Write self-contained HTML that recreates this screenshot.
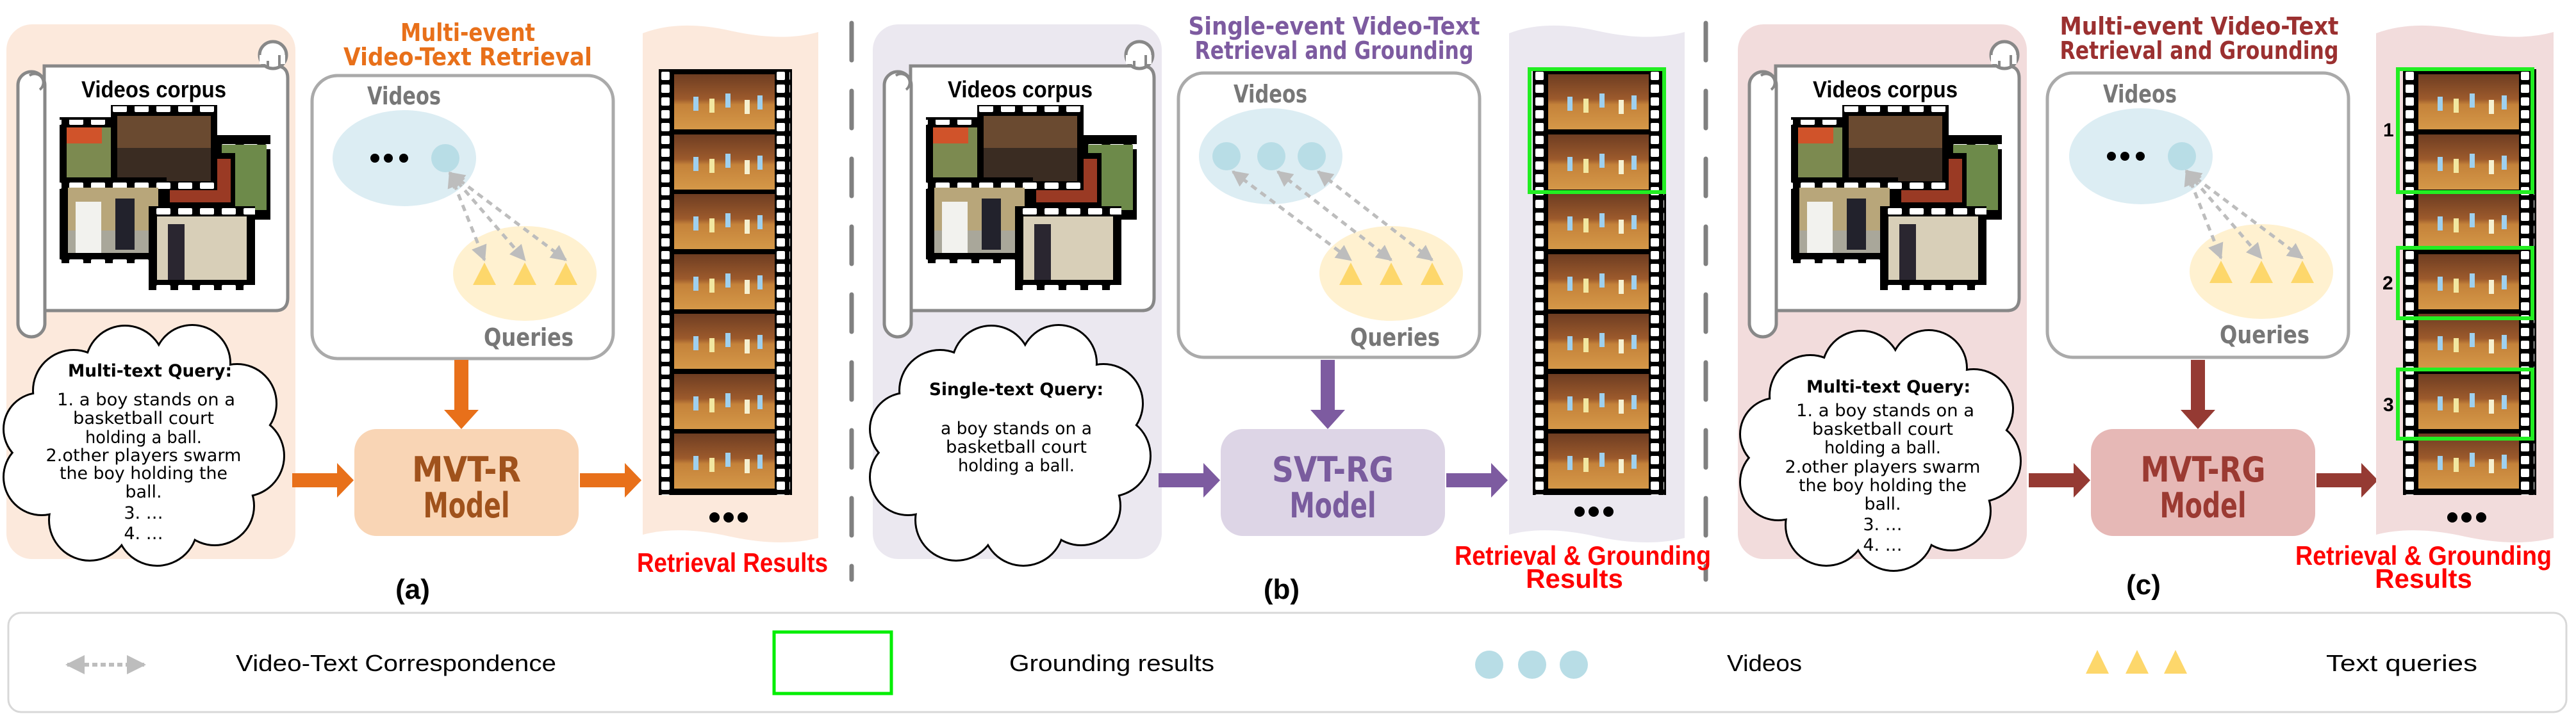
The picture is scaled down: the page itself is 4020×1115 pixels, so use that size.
<!DOCTYPE html>
<html><head><meta charset="utf-8"><style>
html,body{margin:0;padding:0;background:#fff;}
svg{display:block;}
.cm{font-family:"DejaVu Sans","Liberation Sans",sans-serif;}
.nr{font-family:"Liberation Sans Narrow","Liberation Sans",sans-serif;}
.bd{font-weight:bold;}
</style></head><body>
<svg width="4020" height="1115" viewBox="0 0 4020 1115" xmlns="http://www.w3.org/2000/svg">
<defs>
<linearGradient id="court" x1="0" y1="0" x2="0" y2="1">
<stop offset="0" stop-color="#6e3d22"/><stop offset="0.45" stop-color="#9c5a2c"/><stop offset="0.55" stop-color="#c4823a"/><stop offset="1" stop-color="#d59848"/></linearGradient>
<pattern id="holes" x="0" y="0" width="20" height="20" patternUnits="userSpaceOnUse"><rect x="4" y="4" width="13" height="13" rx="2" fill="#fff"/></pattern>
<pattern id="hh" x="0" y="0" width="34" height="20" patternUnits="userSpaceOnUse"><rect x="6" y="5" width="22" height="10" rx="2" fill="#fff"/></pattern>
<g id="players">
<rect x="30" y="35" width="8" height="22" fill="#9fd0ee"/><rect x="55" y="38" width="8" height="22" fill="#f2e7a0"/><rect x="80" y="30" width="8" height="22" fill="#9fd0ee"/><rect x="110" y="40" width="8" height="22" fill="#f5f0d0"/><rect x="130" y="33" width="8" height="22" fill="#9fd0ee"/>
</g>
<g id="frame"><rect x="0" y="0" width="157" height="86" fill="url(#court)"/><use href="#players"/></g>
<g id="film">
<rect x="0" y="0" width="208" height="665" fill="#000"/>
<rect x="0" y="0" width="22" height="665" fill="url(#holes)"/>
<rect x="183" y="0" width="22" height="665" fill="url(#holes)"/>
<use href="#frame" x="24" y="8"/><use href="#frame" x="24" y="102"/><use href="#frame" x="24" y="195"/><use href="#frame" x="24" y="289"/><use href="#frame" x="24" y="382"/><use href="#frame" x="24" y="476"/><use href="#frame" x="24" y="569"/>
</g>
<g id="collage">
<rect x="338" y="211" width="84" height="132" fill="#000"/><rect x="338" y="215" width="84" height="18" fill="url(#hh)"/><rect x="346" y="226" width="70" height="102" fill="#6d8a4a"/>
<rect x="260" y="239" width="107" height="84" fill="#000"/><rect x="265" y="248" width="95" height="68" fill="#9a3a24"/>
<rect x="93" y="183" width="90" height="100" fill="#000"/><rect x="93" y="187" width="90" height="18" fill="url(#hh)"/><rect x="104" y="199" width="75" height="78" fill="#7c8a50"/><rect x="104" y="199" width="55" height="25" fill="#d0532a"/>
<rect x="173" y="164" width="166" height="133" fill="#000"/><rect x="173" y="166" width="166" height="18" fill="url(#hh)"/><rect x="173" y="284" width="166" height="14" fill="url(#hh)"/><rect x="183" y="181" width="146" height="102" fill="#3a2c22"/><rect x="183" y="181" width="146" height="50" fill="#6a4a30"/>
<rect x="93" y="277" width="167" height="134" fill="#000"/><rect x="93" y="279" width="167" height="16" fill="url(#hh)"/><rect x="93" y="395" width="167" height="16" fill="url(#hh)"/><rect x="106" y="293" width="141" height="102" fill="#b8a67a"/><rect x="106" y="360" width="141" height="35" fill="#a9a79a"/><rect x="118" y="315" width="40" height="80" fill="#f2f2ee"/><rect x="180" y="310" width="30" height="80" fill="#22222c"/>
<rect x="232" y="322" width="166" height="131" fill="#000"/><rect x="232" y="324" width="166" height="16" fill="url(#hh)"/><rect x="232" y="437" width="166" height="16" fill="url(#hh)"/><rect x="245" y="338" width="140" height="99" fill="#d8cfb8"/><rect x="262" y="350" width="26" height="87" fill="#2a2630"/>
</g>
<g id="scroll">
<path d="M69,103 H430 Q449,103 449,122 V465 Q449,485 430,485 H69 Z" fill="#fff" stroke="#888" stroke-width="5"/>
<rect x="28" y="112" width="42" height="414" rx="21" fill="#fff" stroke="#888" stroke-width="5"/>
<path d="M46,118 A12,12 0 1 1 62,140" fill="none" stroke="#888" stroke-width="4"/>
<circle cx="426" cy="86" r="21" fill="#fff" stroke="#888" stroke-width="5"/>
<rect x="405" y="86" width="40" height="14" fill="#fff"/>
<path d="M418,95 v10 M436,86 v20" stroke="#888" stroke-width="4"/>
</g>
<g id="cloudS">
<circle cx="115" cy="610" r="62"/><circle cx="195" cy="570" r="60"/><circle cx="300" cy="567" r="58"/><circle cx="370" cy="630" r="60"/><circle cx="380" cy="712" r="62"/><circle cx="335" cy="790" r="60"/><circle cx="245" cy="820" r="62"/><circle cx="140" cy="812" r="62"/><circle cx="65" cy="745" r="58"/><circle cx="62" cy="670" r="55"/><ellipse cx="220" cy="700" rx="170" ry="130"/>
</g>
<marker id="ah" viewBox="0 0 10 10" refX="9" refY="5" markerWidth="5" markerHeight="5" orient="auto-start-reverse" markerUnits="strokeWidth"><path d="M0,0 L10,5 L0,10 z" fill="#bdbdbd"/></marker>
<g id="tris" fill="#fdd76b"><path d="M756,410 L738,445 L774,445Z"/><path d="M819,410 L801,445 L837,445Z"/><path d="M883,410 L865,445 L901,445Z"/></g>
</defs>

<line x1="1329" y1="36" x2="1329" y2="905" stroke="#808080" stroke-width="7" stroke-linecap="round" stroke-dasharray="58 48"/>
<line x1="2662" y1="36" x2="2662" y2="905" stroke="#808080" stroke-width="7" stroke-linecap="round" stroke-dasharray="58 48"/>

<!-- PANEL A -->
<g>
<rect x="10" y="38" width="451" height="835" rx="40" fill="#fce9dc"/>
<use href="#scroll"/>
<text x="240" y="152" class="nr" font-size="36" font-weight="bold" text-anchor="middle" textLength="226" lengthAdjust="spacingAndGlyphs">Videos corpus</text>
<use href="#collage"/>
<use href="#cloudS" stroke="#000" stroke-width="6" fill="#fff"/>
<use href="#cloudS" fill="#fff"/>
<g class="cm" font-size="27" text-anchor="middle" fill="#000">
<text x="234" y="588" font-weight="bold" textLength="256" lengthAdjust="spacingAndGlyphs">Multi-text Query:</text>
<text x="228" y="633" textLength="278" lengthAdjust="spacingAndGlyphs">1.  a boy stands on a</text>
<text x="224" y="662" textLength="220" lengthAdjust="spacingAndGlyphs">basketball court</text>
<text x="224" y="692" textLength="182" lengthAdjust="spacingAndGlyphs">holding a ball.</text>
<text x="224" y="720" textLength="305" lengthAdjust="spacingAndGlyphs">2.other players swarm</text>
<text x="224" y="748" textLength="262" lengthAdjust="spacingAndGlyphs">the boy holding the</text>
<text x="224" y="777">ball.</text>
<text x="224" y="810">3.  …</text>
<text x="224" y="842">4.  …</text>
</g>
<text x="730" y="64" class="cm bd" font-size="38" fill="#e8701a" text-anchor="middle" textLength="210" lengthAdjust="spacingAndGlyphs">Multi-event</text>
<text x="730" y="102" class="cm bd" font-size="38" fill="#e8701a" text-anchor="middle" textLength="388" lengthAdjust="spacingAndGlyphs">Video-Text Retrieval</text>
<rect x="487" y="118" width="470" height="442" rx="40" fill="#fff" stroke="#aaa" stroke-width="5"/>
<text x="573" y="163" class="cm bd" font-size="38" fill="#777" textLength="115" lengthAdjust="spacingAndGlyphs">Videos</text>
<ellipse cx="631" cy="247" rx="112" ry="75" fill="#dcedf3"/>
<circle cx="695" cy="247" r="22" fill="#b8dde6"/>
<circle cx="585" cy="247" r="7"/><circle cx="606" cy="247" r="7"/><circle cx="630" cy="247" r="7"/>
<ellipse cx="819" cy="427" rx="112" ry="74" fill="#fff1d0"/>
<use href="#tris"/>
<g stroke="#bdbdbd" stroke-width="5" stroke-dasharray="10 8" fill="none" marker-start="url(#ah)" marker-end="url(#ah)">
<line x1="702" y1="270" x2="756" y2="406"/><line x1="702" y1="270" x2="819" y2="406"/><line x1="702" y1="270" x2="883" y2="406"/></g>
<text x="755" y="540" class="cm bd" font-size="38" fill="#777" textLength="140" lengthAdjust="spacingAndGlyphs">Queries</text>
<path d="M709,562 h22 v78 h16 l-27,30 l-27,-30 h16z" fill="#e8701a"/>
<rect x="553" y="670" width="350" height="167" rx="35" fill="#f9d5b5"/>
<text x="728" y="752" class="cm bd" font-size="54" fill="#a0521c" text-anchor="middle" textLength="170" lengthAdjust="spacingAndGlyphs">MVT-R</text>
<text x="728" y="808" class="cm bd" font-size="54" fill="#a0521c" text-anchor="middle" textLength="135" lengthAdjust="spacingAndGlyphs">Model</text>
<path d="M456,739 h70 v-16 l26,27 l-26,27 v-16 h-70z" fill="#e8701a"/>
<path d="M905,739 h70 v-16 l26,27 l-26,27 v-16 h-70z" fill="#e8701a"/>
<path d="M1003,52 Q1060,30 1140,48 Q1220,66 1277,50 V840 Q1220,855 1140,838 Q1060,820 1003,835 Z" fill="#fce9dc"/>
<use href="#film" x="1028" y="108"/>
<circle cx="1115" cy="808" r="8"/><circle cx="1137" cy="808" r="8"/><circle cx="1159" cy="808" r="8"/>
<text x="1143" y="893" class="nr" font-size="42" font-weight="bold" fill="#ff0000" text-anchor="middle" textLength="298" lengthAdjust="spacingAndGlyphs">Retrieval Results</text>
<text x="644" y="935" class="nr" font-size="44" font-weight="bold" text-anchor="middle">(a)</text>
</g>

<!-- PANEL B -->
<g transform="translate(1352,0)">
<rect x="10" y="38" width="451" height="835" rx="40" fill="#ebe8f0"/>
<use href="#scroll"/>
<text x="240" y="152" class="nr" font-size="36" font-weight="bold" text-anchor="middle" textLength="226" lengthAdjust="spacingAndGlyphs">Videos corpus</text>
<use href="#collage"/>
<use href="#cloudS" stroke="#000" stroke-width="6" fill="#fff"/>
<use href="#cloudS" fill="#fff"/>
<g class="cm" font-size="27" text-anchor="middle" fill="#000">
<text x="234" y="617" font-weight="bold" textLength="272" lengthAdjust="spacingAndGlyphs">Single-text Query:</text>
<text x="234" y="678" textLength="236" lengthAdjust="spacingAndGlyphs">a boy stands on a</text>
<text x="234" y="707" textLength="220" lengthAdjust="spacingAndGlyphs">basketball court</text>
<text x="234" y="736" textLength="182" lengthAdjust="spacingAndGlyphs">holding a ball.</text>
</g>
<text x="730" y="54" class="cm bd" font-size="38" fill="#7d5ba0" text-anchor="middle" textLength="455" lengthAdjust="spacingAndGlyphs">Single-event Video-Text</text>
<text x="730" y="92" class="cm bd" font-size="38" fill="#7d5ba0" text-anchor="middle" textLength="435" lengthAdjust="spacingAndGlyphs">Retrieval and Grounding</text>
<rect x="487" y="114" width="470" height="444" rx="40" fill="#fff" stroke="#aaa" stroke-width="5"/>
<text x="573" y="160" class="cm bd" font-size="38" fill="#777" textLength="115" lengthAdjust="spacingAndGlyphs">Videos</text>
<ellipse cx="631" cy="244" rx="112" ry="75" fill="#dcedf3"/>
<circle cx="562" cy="244" r="22" fill="#b8dde6"/><circle cx="632" cy="244" r="22" fill="#b8dde6"/><circle cx="695" cy="244" r="22" fill="#b8dde6"/>
<ellipse cx="819" cy="427" rx="112" ry="74" fill="#fff1d0"/>
<use href="#tris"/>
<g stroke="#bdbdbd" stroke-width="5" stroke-dasharray="10 8" fill="none" marker-start="url(#ah)" marker-end="url(#ah)">
<line x1="572" y1="268" x2="756" y2="406"/><line x1="642" y1="268" x2="819" y2="406"/><line x1="705" y1="268" x2="883" y2="406"/></g>
<text x="755" y="540" class="cm bd" font-size="38" fill="#777" textLength="140" lengthAdjust="spacingAndGlyphs">Queries</text>
<path d="M709,562 h22 v78 h16 l-27,30 l-27,-30 h16z" fill="#7d5ba0"/>
<rect x="553" y="670" width="350" height="167" rx="35" fill="#ddd5e6"/>
<text x="728" y="752" class="cm bd" font-size="54" fill="#7a5c9e" text-anchor="middle" textLength="190" lengthAdjust="spacingAndGlyphs">SVT-RG</text>
<text x="728" y="808" class="cm bd" font-size="54" fill="#7a5c9e" text-anchor="middle" textLength="135" lengthAdjust="spacingAndGlyphs">Model</text>
<path d="M456,739 h70 v-16 l26,27 l-26,27 v-16 h-70z" fill="#7d5ba0"/>
<path d="M905,739 h70 v-16 l26,27 l-26,27 v-16 h-70z" fill="#7d5ba0"/>
<path d="M1003,52 Q1060,30 1140,48 Q1220,66 1277,50 V840 Q1220,855 1140,838 Q1060,820 1003,835 Z" fill="#ebe8f0"/>
<use href="#film" x="1040" y="108"/>
<rect x="1035" y="108" width="210" height="192" fill="none" stroke="#22ee22" stroke-width="6"/>
<circle cx="1113" cy="799" r="8"/><circle cx="1135" cy="799" r="8"/><circle cx="1158" cy="799" r="8"/>
<text x="1118" y="882" class="nr" font-size="42" font-weight="bold" fill="#ff0000" text-anchor="middle" textLength="400" lengthAdjust="spacingAndGlyphs">Retrieval &amp; Grounding</text>
<text x="1105" y="918" class="nr" font-size="42" font-weight="bold" fill="#ff0000" text-anchor="middle">Results</text>
<text x="648" y="935" class="nr" font-size="44" font-weight="bold" text-anchor="middle">(b)</text>
</g>

<!-- PANEL C -->
<g transform="translate(2702,0)">
<rect x="10" y="38" width="451" height="835" rx="40" fill="#f2dcdc"/>
<use href="#scroll"/>
<text x="240" y="152" class="nr" font-size="36" font-weight="bold" text-anchor="middle" textLength="226" lengthAdjust="spacingAndGlyphs">Videos corpus</text>
<use href="#collage"/>
<g transform="translate(8,8)">
<use href="#cloudS" stroke="#000" stroke-width="6" fill="#fff"/>
<use href="#cloudS" fill="#fff"/>
</g>
<g class="cm" font-size="27" text-anchor="middle" fill="#000">
<text x="245" y="613" font-weight="bold" textLength="256" lengthAdjust="spacingAndGlyphs">Multi-text Query:</text>
<text x="240" y="650" textLength="278" lengthAdjust="spacingAndGlyphs">1.  a boy stands on a</text>
<text x="236" y="679" textLength="220" lengthAdjust="spacingAndGlyphs">basketball court</text>
<text x="236" y="708" textLength="182" lengthAdjust="spacingAndGlyphs">holding a ball.</text>
<text x="236" y="738" textLength="305" lengthAdjust="spacingAndGlyphs">2.other players swarm</text>
<text x="236" y="767" textLength="262" lengthAdjust="spacingAndGlyphs">the boy holding the</text>
<text x="236" y="796">ball.</text>
<text x="236" y="828">3.  …</text>
<text x="236" y="860">4.  …</text>
</g>
<text x="730" y="54" class="cm bd" font-size="38" fill="#9b3030" text-anchor="middle" textLength="435" lengthAdjust="spacingAndGlyphs">Multi-event Video-Text</text>
<text x="730" y="92" class="cm bd" font-size="38" fill="#9b3030" text-anchor="middle" textLength="435" lengthAdjust="spacingAndGlyphs">Retrieval and Grounding</text>
<rect x="493" y="114" width="470" height="444" rx="40" fill="#fff" stroke="#aaa" stroke-width="5"/>
<text x="580" y="160" class="cm bd" font-size="38" fill="#777" textLength="115" lengthAdjust="spacingAndGlyphs">Videos</text>
<g transform="translate(8,-3)">
<ellipse cx="631" cy="247" rx="112" ry="75" fill="#dcedf3"/>
<circle cx="695" cy="247" r="22" fill="#b8dde6"/>
<circle cx="585" cy="247" r="7"/><circle cx="606" cy="247" r="7"/><circle cx="630" cy="247" r="7"/>
<ellipse cx="819" cy="427" rx="112" ry="74" fill="#fff1d0"/>
<use href="#tris"/>
<g stroke="#bdbdbd" stroke-width="5" stroke-dasharray="10 8" fill="none" marker-start="url(#ah)" marker-end="url(#ah)">
<line x1="702" y1="270" x2="756" y2="406"/><line x1="702" y1="270" x2="819" y2="406"/><line x1="702" y1="270" x2="883" y2="406"/></g>
</g>
<text x="762" y="536" class="cm bd" font-size="38" fill="#777" textLength="140" lengthAdjust="spacingAndGlyphs">Queries</text>
<path d="M717,562 h22 v78 h16 l-27,30 l-27,-30 h16z" fill="#953a33"/>
<rect x="561" y="670" width="350" height="167" rx="35" fill="#e6b8b6"/>
<text x="736" y="752" class="cm bd" font-size="54" fill="#9b3a32" text-anchor="middle" textLength="195" lengthAdjust="spacingAndGlyphs">MVT-RG</text>
<text x="736" y="808" class="cm bd" font-size="54" fill="#9b3a32" text-anchor="middle" textLength="135" lengthAdjust="spacingAndGlyphs">Model</text>
<path d="M464,739 h70 v-16 l26,27 l-26,27 v-16 h-70z" fill="#953a33"/>
<path d="M913,739 h70 v-16 l26,27 l-26,27 v-16 h-70z" fill="#953a33"/>
<path d="M1006,52 Q1065,30 1145,48 Q1225,66 1283,50 V840 Q1225,855 1145,838 Q1065,820 1006,835 Z" fill="#f2dcdc"/>
<use href="#film" x="1048" y="108"/>
<g fill="none" stroke="#22ee22" stroke-width="6">
<rect x="1040" y="108" width="210" height="192"/>
<rect x="1040" y="387" width="210" height="110"/>
<rect x="1040" y="577" width="210" height="108"/></g>
<g class="nr" font-size="30" font-weight="bold"><text x="1017" y="213">1</text><text x="1016" y="452">2</text><text x="1017" y="642">3</text></g>
<circle cx="1125" cy="808" r="8"/><circle cx="1147" cy="808" r="8"/><circle cx="1170" cy="808" r="8"/>
<text x="1080" y="882" class="nr" font-size="42" font-weight="bold" fill="#ff0000" text-anchor="middle" textLength="400" lengthAdjust="spacingAndGlyphs">Retrieval &amp; Grounding</text>
<text x="1080" y="918" class="nr" font-size="42" font-weight="bold" fill="#ff0000" text-anchor="middle">Results</text>
<text x="643" y="928" class="nr" font-size="44" font-weight="bold" text-anchor="middle">(c)</text>
</g>

<!-- LEGEND -->
<rect x="13" y="957" width="3992" height="155" rx="20" fill="#fff" stroke="#d8d8d8" stroke-width="3"/>
<line x1="105" y1="1038" x2="225" y2="1038" stroke="#bdbdbd" stroke-width="6" stroke-dasharray="8 5" marker-start="url(#ah)" marker-end="url(#ah)"/>
<text x="368" y="1048" class="nr" font-size="36" textLength="500" lengthAdjust="spacingAndGlyphs">Video-Text Correspondence</text>
<rect x="1208" y="987" width="183" height="96" fill="none" stroke="#00ee00" stroke-width="5"/>
<text x="1575" y="1048" class="nr" font-size="36" textLength="320" lengthAdjust="spacingAndGlyphs">Grounding results</text>
<circle cx="2324" cy="1038" r="22" fill="#b8dde6"/><circle cx="2391" cy="1038" r="22" fill="#b8dde6"/><circle cx="2456" cy="1038" r="22" fill="#b8dde6"/>
<text x="2695" y="1048" class="nr" font-size="36" textLength="117" lengthAdjust="spacingAndGlyphs">Videos</text>
<g fill="#fdd76b"><path d="M3273,1015 L3255,1052 L3291,1052Z"/><path d="M3335,1015 L3317,1052 L3353,1052Z"/><path d="M3395,1015 L3377,1052 L3413,1052Z"/></g>
<text x="3630" y="1048" class="nr" font-size="36" textLength="236" lengthAdjust="spacingAndGlyphs">Text queries</text>
</svg>
</body></html>
